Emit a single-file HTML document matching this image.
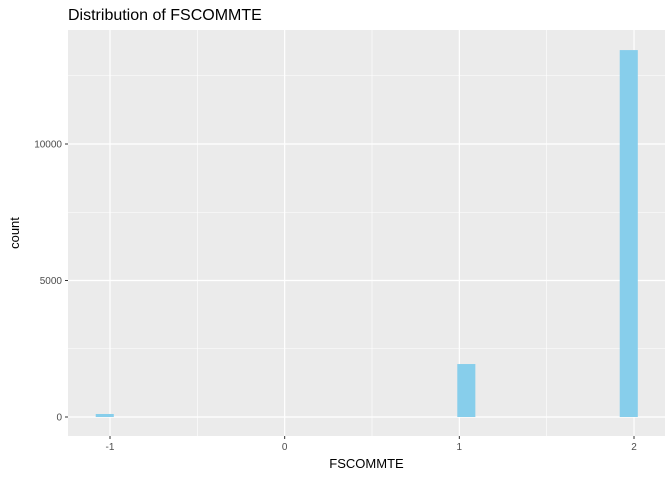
<!DOCTYPE html>
<html><head><meta charset="utf-8"><style>
body{margin:0;background:#fff;font-family:"Liberation Sans",sans-serif}
</style></head><body>
<svg id="c" width="672" height="480" xmlns="http://www.w3.org/2000/svg"></svg>
<script>
const binCenters=[-1.03,1.04,1.97];
const counts=[110,1940,13440];
const xTicks=[-1,0,1,2];
const xMinor=[-0.5,0.5,1.5];
const yTicks=[0,5000,10000];
const yMinor=[2500,7500,12500];
const binWidth=0.1034;
const svg=document.getElementById('c');
const NS='http://www.w3.org/2000/svg';
const L=68,R=665,T=30,B=436;
const xs=v=>110+(v+1)*174.67;
const ys=v=>417-v*0.0273;
function mk(t,a,name,txt){const e=document.createElementNS(NS,t);for(const k in a)e.setAttribute(k,a[k]);


if(txt!==undefined)e.textContent=txt;svg.appendChild(e);return e;}
mk('rect',{x:L,y:T,width:R-L,height:B-T,fill:'#ebebeb'},'plot-panel');
yMinor.forEach(v=>mk('line',{x1:L,x2:R,y1:ys(v),y2:ys(v),stroke:'#fff','stroke-width':0.6},'y-minor-gridline'));
xMinor.forEach(v=>mk('line',{x1:xs(v),x2:xs(v),y1:T,y2:B,stroke:'#fff','stroke-width':0.6},'x-minor-gridline'));
yTicks.forEach(v=>{mk('line',{x1:L,x2:R,y1:ys(v),y2:ys(v),stroke:'#fff','stroke-width':1.2},'y-gridline');
mk('line',{x1:L-3,x2:L,y1:ys(v),y2:ys(v),stroke:'#333','stroke-width':1},'y-tick');
mk('text',{x:L-6,y:ys(v)+3.5,'text-anchor':'end','font-size':10,fill:'#4d4d4d'},'y-tick-label',String(v));});
xTicks.forEach(v=>{mk('line',{x1:xs(v),x2:xs(v),y1:T,y2:B,stroke:'#fff','stroke-width':1.2},'x-gridline');
mk('line',{x1:xs(v),x2:xs(v),y1:B,y2:B+3,stroke:'#333','stroke-width':1},'x-tick');
mk('text',{x:xs(v),y:B+14,'text-anchor':'middle','font-size':10,fill:'#4d4d4d'},'x-tick-label',String(v));});
binCenters.forEach((c,i)=>{const x0=xs(c-binWidth/2),x1=xs(c+binWidth/2);
mk('rect',{x:x0,y:ys(counts[i]),width:x1-x0,height:ys(0)-ys(counts[i]),fill:'#87ceeb'},'histogram-bar');});
mk('text',{x:(L+R)/2,y:468,'text-anchor':'middle','font-size':13,fill:'#000'},'x-axis-title','FSCOMMTE');
mk('text',{x:19,y:(T+B)/2,'text-anchor':'middle','font-size':13,fill:'#000',transform:`rotate(-90 19 ${(T+B)/2})`},'y-axis-title','count');
mk('text',{x:68,y:20,'font-size':16,fill:'#000'},'chart-title','Distribution of FSCOMMTE');
</script>
</body></html>
